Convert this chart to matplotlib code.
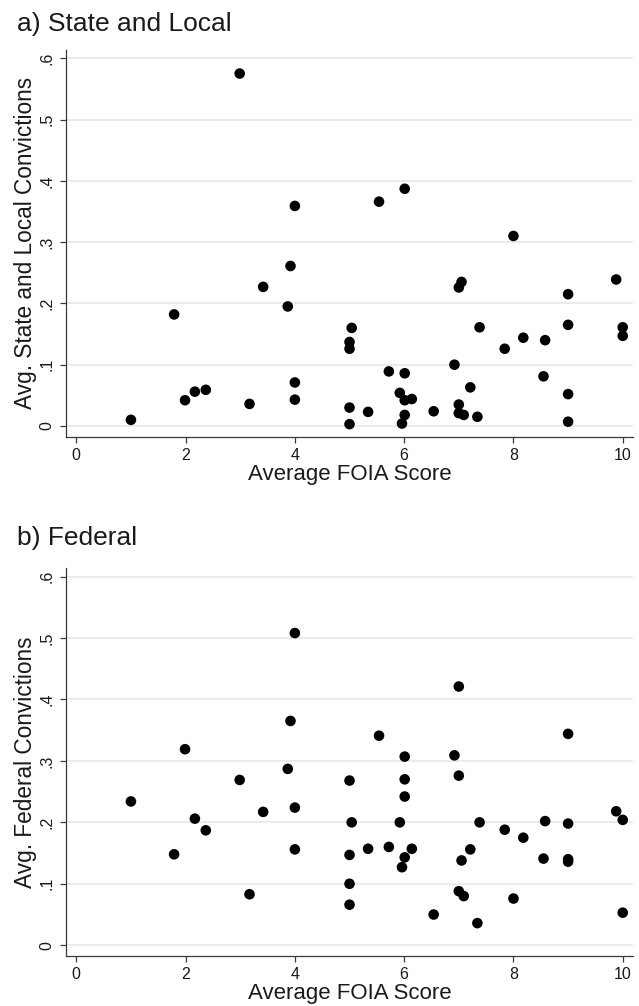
import matplotlib
matplotlib.use('Agg')
import matplotlib.pyplot as plt

plt.rcParams['font.family'] = ['Liberation Sans', 'DejaVu Sans']

# average FOIA score per state (same states in both panels)
foia_score = [1.0, 1.79, 1.99, 2.17, 2.37, 2.99, 3.17, 3.42, 3.87, 3.92,
              4.0, 4.0, 4.0, 5.0, 5.0, 5.0, 5.0, 5.04, 5.34, 5.54,
              5.72, 5.92, 5.96, 6.01, 6.01, 6.01, 6.01, 6.14, 6.54, 6.92,
              7.0, 7.0, 7.0, 7.05, 7.09, 7.21, 7.34, 7.38, 7.84, 8.0,
              8.18, 8.55, 8.58, 9.0, 9.0, 9.0, 9.0, 9.88, 10.0, 10.0]

state_local = [0.010, 0.182, 0.042, 0.056, 0.059, 0.575, 0.036, 0.227, 0.195, 0.261,
               0.359, 0.071, 0.043, 0.137, 0.126, 0.030, 0.003, 0.160, 0.023, 0.366,
               0.089, 0.054, 0.004, 0.387, 0.086, 0.042, 0.018, 0.044, 0.024, 0.100,
               0.226, 0.035, 0.021, 0.235, 0.018, 0.063, 0.015, 0.161, 0.126, 0.310,
               0.144, 0.081, 0.140, 0.215, 0.165, 0.052, 0.007, 0.239, 0.161, 0.147]

federal = [0.234, 0.148, 0.319, 0.206, 0.187, 0.269, 0.083, 0.217, 0.287, 0.365,
           0.508, 0.224, 0.156, 0.268, 0.147, 0.100, 0.066, 0.200, 0.157, 0.341,
           0.160, 0.200, 0.127, 0.307, 0.270, 0.242, 0.143, 0.157, 0.050, 0.309,
           0.421, 0.276, 0.088, 0.138, 0.080, 0.156, 0.036, 0.200, 0.188, 0.076,
           0.175, 0.141, 0.202, 0.344, 0.198, 0.140, 0.136, 0.218, 0.204, 0.053]

x_ticks = [0, 2, 4, 6, 8, 10]
y_ticks = [0, 0.1, 0.2, 0.3, 0.4, 0.5, 0.6]
y_tick_labels = ['0', '.1', '.2', '.3', '.4', '.5', '.6']

AXIS_COLOR = '#3a3a3a'
GRID_COLOR = '#e8e8e8'
TEXT_COLOR = '#1a1a1a'


def draw_panel(ax, y, ylabel):
    ax.scatter(foia_score, y, s=58, color='black', edgecolors='none', zorder=3)
    ax.set_xlim(-0.194, 10.19)
    ax.set_ylim(-0.0175, 0.6134)
    ax.set_xticks(x_ticks)
    ax.set_xticklabels([str(t) for t in x_ticks])
    ax.set_yticks(y_ticks)
    ax.set_yticklabels(y_tick_labels, rotation=90, va='center')
    ax.yaxis.grid(True, color=GRID_COLOR, linewidth=1.2)
    ax.set_axisbelow(True)
    for side in ['top', 'right']:
        ax.spines[side].set_visible(False)
    for side in ['left', 'bottom']:
        ax.spines[side].set_color(AXIS_COLOR)
        ax.spines[side].set_linewidth(0.9)
    ax.tick_params(axis='both', direction='out', length=4, width=0.9,
                   color=AXIS_COLOR, labelsize=11.5, labelcolor=TEXT_COLOR)
    ax.tick_params(axis='x', pad=4)
    ax.tick_params(axis='y', pad=4)
    ax.set_xlabel('Average FOIA Score', fontsize=16, color=TEXT_COLOR, labelpad=0.5)
    ax.set_ylabel(ylabel, fontsize=16.3, color=TEXT_COLOR, labelpad=2)


fig = plt.figure(figsize=(6.39, 10.06), dpi=100)

ax_top = fig.add_axes([0.1028, 0.5659, 0.888, 0.3844])
draw_panel(ax_top, state_local, 'Avg. State and Local Convictions')

ax_bot = fig.add_axes([0.1028, 0.0497, 0.888, 0.3854])
draw_panel(ax_bot, federal, 'Avg. Federal Convictions')

# panel headings
fig.text(17 / 639, 1 - 24 / 1006, 'a) State and Local', fontsize=19, va='center', ha='left',
         color=TEXT_COLOR)
fig.text(17 / 639, 1 - 538 / 1006, 'b) Federal', fontsize=19, va='center', ha='left',
         color=TEXT_COLOR)

fig.savefig('out.png', dpi=100, facecolor='white')
